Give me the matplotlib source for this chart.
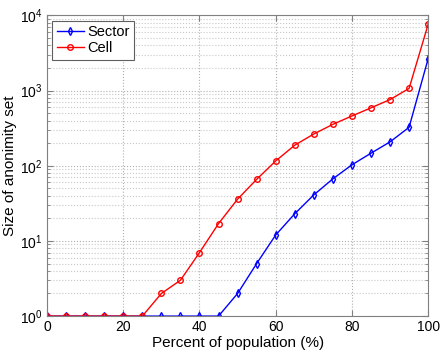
import numpy as np
import matplotlib
matplotlib.use("Agg")
import matplotlib.pyplot as plt

# percent of population, in steps of 5
pct = [0, 5, 10, 15, 20, 25, 30, 35, 40, 45, 50, 55, 60, 65, 70, 75, 80, 85, 90, 95, 100]

# anonymity set sizes
sector = [1, 1, 1, 1, 1, 1, 1, 1, 1, 1, 2, 5, 12, 23, 41, 67, 103, 147, 208, 325, 2650]
cell = [1, 1, 1, 1, 1, 1, 2, 3, 7, 17, 36, 66, 116, 188, 265, 356, 460, 590, 760, 1070, 7600]

plt.rcParams['font.family'] = ['Liberation Sans', 'DejaVu Sans']
plt.rcParams['font.size'] = 10
plt.rcParams['mathtext.fontset'] = 'custom'
plt.rcParams['mathtext.rm'] = 'Liberation Sans'
plt.rcParams['mathtext.it'] = 'Liberation Sans'

fig = plt.figure(figsize=(4.4, 3.52), dpi=100)
ax = fig.add_axes([0.107, 0.102, 0.866, 0.854])

ax.plot(pct, sector, color='#0000ff', lw=1.0, marker='d', ms=4,
        mfc='none', mec='#0000ff', mew=1.0, label='Sector')
ax.plot(pct, cell, color='#ff0000', lw=1.0, marker='o', ms=4,
        mfc='none', mec='#ff0000', mew=1.0, label='Cell')

ax.set_yscale('log')
ax.set_xlim(0, 100)
ax.set_ylim(1, 1e4)
ax.set_xticks([0, 20, 40, 60, 80, 100])

# matlab-ish dotted grid
ax.grid(True, which='major', ls=':', color='#b0b0b0', lw=0.8)
ax.grid(True, which='minor', axis='y', ls=':', color='#c8c8c8', lw=0.8)
ax.set_axisbelow(True)

for s in ax.spines.values():
    s.set_color('#808080')
ax.tick_params(which='both', direction='in', color='#808080', top=True, right=True)
ax.tick_params(which='major', length=4, labelsize=10, pad=3)
ax.tick_params(which='minor', length=2)

ax.set_xlabel('Percent of population (%)', fontsize=11, labelpad=1)
ax.set_ylabel('Size of anonimity set', fontsize=11, labelpad=2)

leg = ax.legend(loc='upper left', fontsize=10.5, fancybox=False, framealpha=1,
                edgecolor='#606060', borderpad=0.3, handlelength=1.9,
                handletextpad=0.2, borderaxespad=0.35, labelspacing=0.15)
leg.get_frame().set_linewidth(0.8)

fig.savefig('out.png', dpi=100)
